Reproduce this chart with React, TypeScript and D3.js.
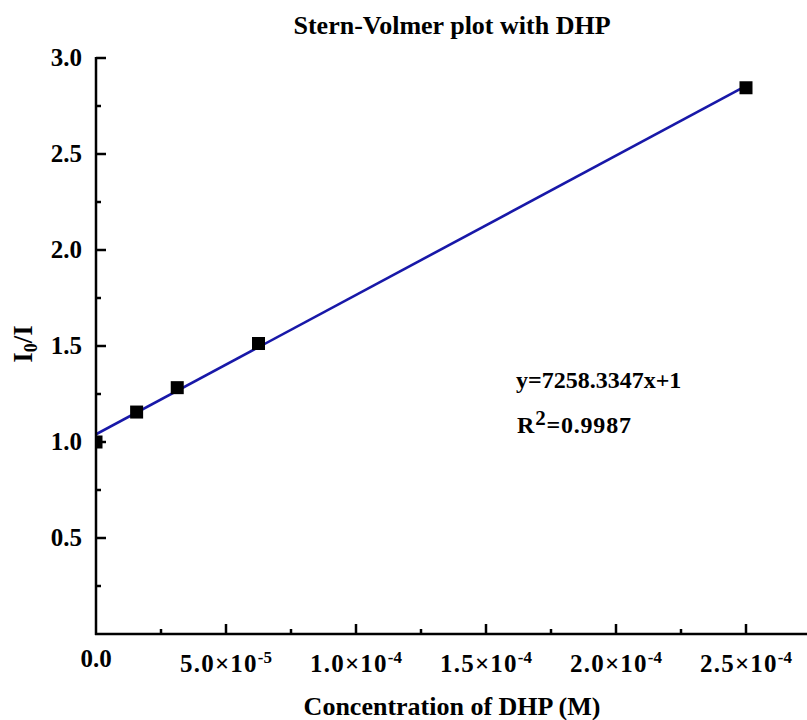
import React from "react";
import * as d3 from "d3";

const concentrations = [0, 1.5625e-5, 3.125e-5, 6.25e-5, 2.5e-4];
const ratios = [1.0, 1.156, 1.283, 1.513, 2.845];

const fitSlope = 7258.3347;
const fitIntercept = 1.04;
const fitStart = 0;
const fitEnd = 2.5e-4;

const xTickValues = [0, 5e-5, 1e-4, 1.5e-4, 2e-4, 2.5e-4];
const xTickMantissa = ["0.0", "5.0", "1.0", "1.5", "2.0", "2.5"];
const xTickExponent = ["", "-5", "-4", "-4", "-4", "-4"];
const xMinorTicks = [2.5e-5, 7.5e-5, 1.25e-4, 1.75e-4, 2.25e-4, 2.75e-4];

const yTickValues = [0.5, 1.0, 1.5, 2.0, 2.5, 3.0];
const yTickLabels = ["0.5", "1.0", "1.5", "2.0", "2.5", "3.0"];
const yMinorTicks = [0.25, 0.75, 1.25, 1.75, 2.25, 2.75];

const titleText = "Stern-Volmer plot with DHP";
const xTitle = "Concentration of DHP (M)";
const equationText = "y=7258.3347x+1";
const r2Value = "=0.9987";

const FONT = "'Liberation Serif', 'Times New Roman', serif";

export default function App() {
  const W = 807;
  const H = 720;
  const left = 96;
  const right = 811;
  const top = 58;
  const bottom = 634;

  const x = d3.scaleLinear().domain([0, 2.75e-4]).range([left, right]);
  const y = d3.scaleLinear().domain([0, 3.0]).range([bottom, top]);

  const line = d3
    .line<number>()
    .x((d) => x(d))
    .y((d) => y(fitIntercept + fitSlope * d));

  const ms = 13;

  return (
    <svg
      width={W}
      height={H}
      style={{ position: "absolute", left: 0, top: 0, background: "#fff" }}
      fontFamily={FONT}
      fontWeight="bold"
    >
      <defs>
        <clipPath id="plotClip">
          <rect x={left} y={0} width={W - left} height={bottom} />
        </clipPath>
      </defs>
      <rect x={0} y={0} width={W} height={H} fill="#fff" />

      {/* title */}
      <text x={452} y={34} fontSize={26} textAnchor="middle" fill="#000">
        {titleText}
      </text>

      {/* fit line */}
      <g clipPath="url(#plotClip)">
        <path
          d={line([fitStart, fitEnd]) || ""}
          stroke="#1818a8"
          strokeWidth={2.6}
          fill="none"
        />
        {concentrations.map((c, i) => (
          <rect
            key={i}
            x={x(c) - ms / 2}
            y={y(ratios[i]) - ms / 2}
            width={ms}
            height={ms}
            fill="#000"
          />
        ))}
      </g>

      {/* axes */}
      <line x1={left} y1={top - 1} x2={left} y2={bottom + 1} stroke="#000" strokeWidth={2.5} />
      <line x1={left - 1} y1={bottom} x2={W} y2={bottom} stroke="#000" strokeWidth={2.5} />

      {/* y ticks */}
      {yTickValues.map((v, i) => (
        <g key={"yt" + i}>
          <line x1={left} x2={left + 10} y1={y(v)} y2={y(v)} stroke="#000" strokeWidth={2.5} />
          <text x={82} y={y(v) + 8} fontSize={25} textAnchor="end" fill="#000">
            {yTickLabels[i]}
          </text>
        </g>
      ))}
      {yMinorTicks.map((v, i) => (
        <line key={"ym" + i} x1={left} x2={left + 5} y1={y(v)} y2={y(v)} stroke="#000" strokeWidth={2.5} />
      ))}

      {/* x ticks */}
      {xTickValues.map((v, i) => (
        <g key={"xt" + i}>
          {i > 0 && (
            <line x1={x(v)} x2={x(v)} y1={bottom} y2={bottom - 10} stroke="#000" strokeWidth={2.5} />
          )}
          {xTickExponent[i] ? (
            <text x={x(v)} y={672} fontSize={25} letterSpacing={1.2} textAnchor="middle" fill="#000">
              {xTickMantissa[i]}×10
              <tspan fontSize={17} dy={-9} letterSpacing={0}>
                {xTickExponent[i]}
              </tspan>
            </text>
          ) : (
            <text x={x(v)} y={667} fontSize={25} textAnchor="middle" fill="#000">
              {xTickMantissa[i]}
            </text>
          )}
        </g>
      ))}
      {xMinorTicks.map((v, i) => (
        <line key={"xm" + i} x1={x(v)} x2={x(v)} y1={bottom} y2={bottom - 5} stroke="#000" strokeWidth={2.5} />
      ))}

      {/* x title */}
      <text x={452} y={715} fontSize={26} textAnchor="middle" fill="#000">
        {xTitle}
      </text>

      {/* y title */}
      <text
        transform={`translate(32, 344) rotate(-90)`}
        fontSize={27}
        textAnchor="middle"
        fill="#000"
      >
        I
        <tspan fontSize={18} dy={5}>
          0
        </tspan>
        <tspan dy={-5}>/I</tspan>
      </text>

      {/* annotation */}
      <text x={516} y={388} fontSize={24} fill="#000">
        {equationText}
      </text>
      <text x={517} y={433} fontSize={24} letterSpacing={0.8} fill="#000">
        R
        <tspan fontSize={21} dy={-8}>
          2
        </tspan>
        <tspan dy={8}>{r2Value}</tspan>
      </text>
    </svg>
  );
}
